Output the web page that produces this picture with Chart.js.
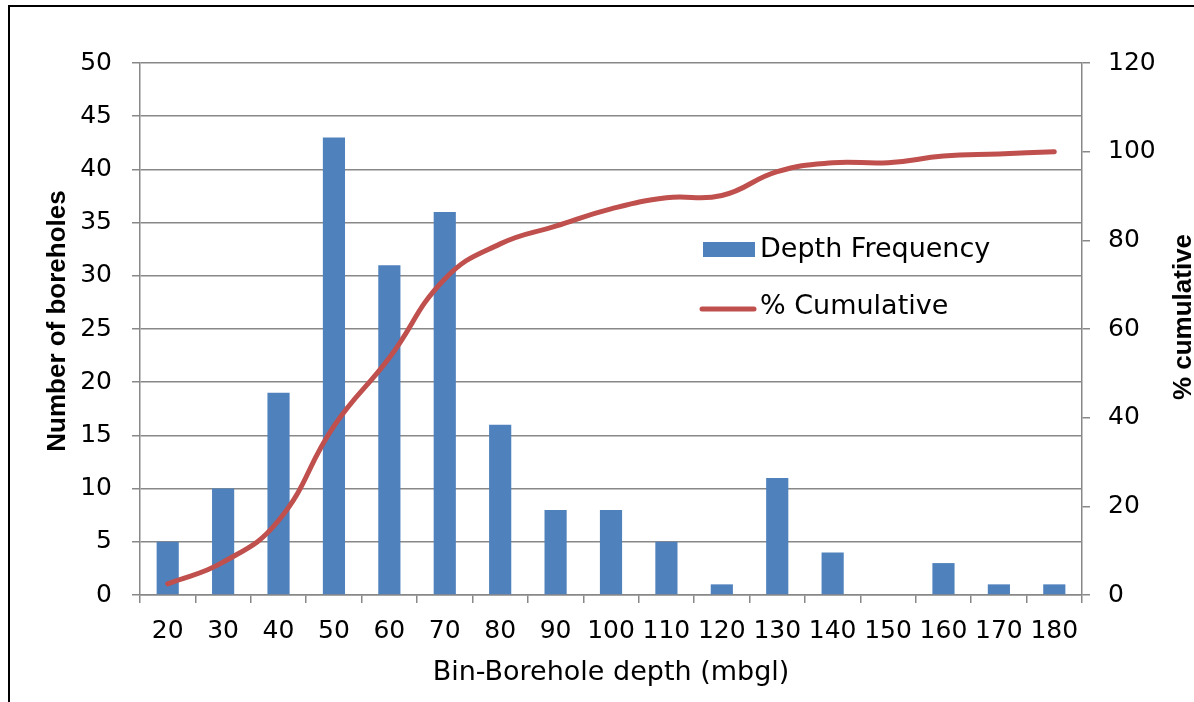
<!DOCTYPE html>
<html lang="en">
<head>
  <meta charset="UTF-8">
  <title>Borehole depth distribution</title>
  <style>
    body {
      margin: 0;
      background: #ffffff;
      overflow: hidden;
    }
    .frame {
      position: absolute;
      left: 8px;
      top: 5px;
      width: 1200px;
      height: 720px;
      border-left: 2px solid #000;
      border-top: 2px solid #000;
    }
    .wrap {
      position: absolute;
      left: 0;
      top: 0;
      width: 1194px;
      height: 702px;
    }
  </style>
</head>
<body>
<div class="frame"></div>
<div class="wrap">
  <canvas id="depthChart" width="1194" height="702"></canvas>
</div>

<script src="https://cdn.jsdelivr.net/npm/chart.js"></script>
<script>
  // depth bins (mbgl)
  const bins = ['20', '30', '40', '50', '60', '70', '80', '90', '100', '110',
                '120', '130', '140', '150', '160', '170', '180'];
  // number of boreholes in each bin
  const frequency = [5, 10, 19, 43, 31, 36, 16, 8, 8, 5, 1, 11, 4, 0, 3, 1, 1];
  // running percentage
  const cumulative = [2.5, 7.4, 16.8, 38.1, 53.5, 71.3, 79.2, 83.2, 87.1, 89.6,
                      90.1, 95.5, 97.5, 97.5, 99.0, 99.5, 100];

  const gridGrey = '#888888';
  const tickFont = { family: 'DejaVu Sans', size: 25 };

  // legend drawn inside the plot area
  const insideLegend = {
    id: 'insideLegend',
    afterDatasetsDraw(chart) {
      const ctx = chart.ctx;
      const ds = chart.data.datasets;
      ctx.save();
      ctx.font = '27px "DejaVu Sans"';
      ctx.textBaseline = 'middle';
      // bar swatch
      ctx.fillStyle = ds[0].backgroundColor;
      ctx.fillRect(703, 242, 52, 15);
      ctx.fillStyle = '#000';
      ctx.fillText(ds[0].label, 760, 250);
      // line swatch
      ctx.strokeStyle = ds[1].borderColor;
      ctx.lineWidth = 5;
      ctx.lineCap = 'round';
      ctx.beginPath();
      ctx.moveTo(702, 309);
      ctx.lineTo(754, 309);
      ctx.stroke();
      ctx.fillText(ds[1].label, 760, 307);
      ctx.restore();
    }
  };

  // vertical axis titles
  const axisTitles = {
    id: 'axisTitles',
    afterDraw(chart) {
      const ctx = chart.ctx;
      const area = chart.chartArea;
      const midY = (area.top + area.bottom) / 2;
      ctx.save();
      ctx.font = 'bold 26px "Liberation Sans"';
      ctx.fillStyle = '#000';
      ctx.textAlign = 'center';
      ctx.textBaseline = 'middle';
      ctx.translate(58, midY - 8);
      ctx.rotate(-Math.PI / 2);
      ctx.fillText('Number of boreholes', 0, 0);
      ctx.restore();

      ctx.save();
      ctx.font = 'bold 26px "Liberation Sans"';
      ctx.fillStyle = '#000';
      ctx.textAlign = 'center';
      ctx.textBaseline = 'middle';
      ctx.translate(1184, midY - 12);
      ctx.rotate(-Math.PI / 2);
      ctx.fillText('% cumulative', 0, 0);
      ctx.restore();
    }
  };

  const ctx = document.getElementById('depthChart').getContext('2d');

  new Chart(ctx, {
    data: {
      labels: bins,
      datasets: [
        {
          type: 'bar',
          label: 'Depth Frequency',
          data: frequency,
          backgroundColor: '#4F81BD',
          barPercentage: 0.4,
          categoryPercentage: 1.0,
          yAxisID: 'y',
          order: 1
        },
        {
          type: 'line',
          label: '% Cumulative',
          data: cumulative,
          borderColor: '#C0504D',
          borderWidth: 5,
          borderCapStyle: 'round',
          pointRadius: 0,
          tension: 0.45,
          yAxisID: 'y1',
          order: 0
        }
      ]
    },
    options: {
      responsive: false,
      animation: false,
      layout: { padding: { top: 63, left: 0, right: 0, bottom: 0 } },
      plugins: {
        legend: { display: false },
        tooltip: { enabled: false }
      },
      scales: {
        x: {
          offset: true,
          grid: {
            offset: true,
            drawOnChartArea: false,
            drawTicks: true,
            tickLength: 8,
            color: gridGrey,
            lineWidth: 1.5
          },
          border: { color: gridGrey, width: 1.5 },
          ticks: { font: tickFont, color: '#000', padding: 13, maxRotation: 0, autoSkip: false },
          title: {
            display: true,
            text: 'Bin-Borehole depth (mbgl)',
            font: { family: 'DejaVu Sans', size: 27 },
            color: '#000',
            padding: { top: 0, bottom: 13 }
          },
          afterFit(scale) { scale.height = 107; }
        },
        y: {
          position: 'left',
          min: 0,
          max: 50,
          ticks: { stepSize: 5, font: tickFont, color: '#000', padding: 20 },
          grid: { color: gridGrey, lineWidth: 1.5, tickLength: 8 },
          border: { color: gridGrey, width: 1.5 },
          afterFit(scale) { scale.width = 140; }
        },
        y1: {
          position: 'right',
          min: 0,
          max: 120,
          ticks: { stepSize: 20, font: tickFont, color: '#000', padding: 18 },
          grid: { drawOnChartArea: false, color: gridGrey, lineWidth: 1.5, tickLength: 8 },
          border: { color: gridGrey, width: 1.5 },
          afterFit(scale) { scale.width = 112; }
        }
      }
    },
    plugins: [insideLegend, axisTitles]
  });
</script>
</body>
</html>
